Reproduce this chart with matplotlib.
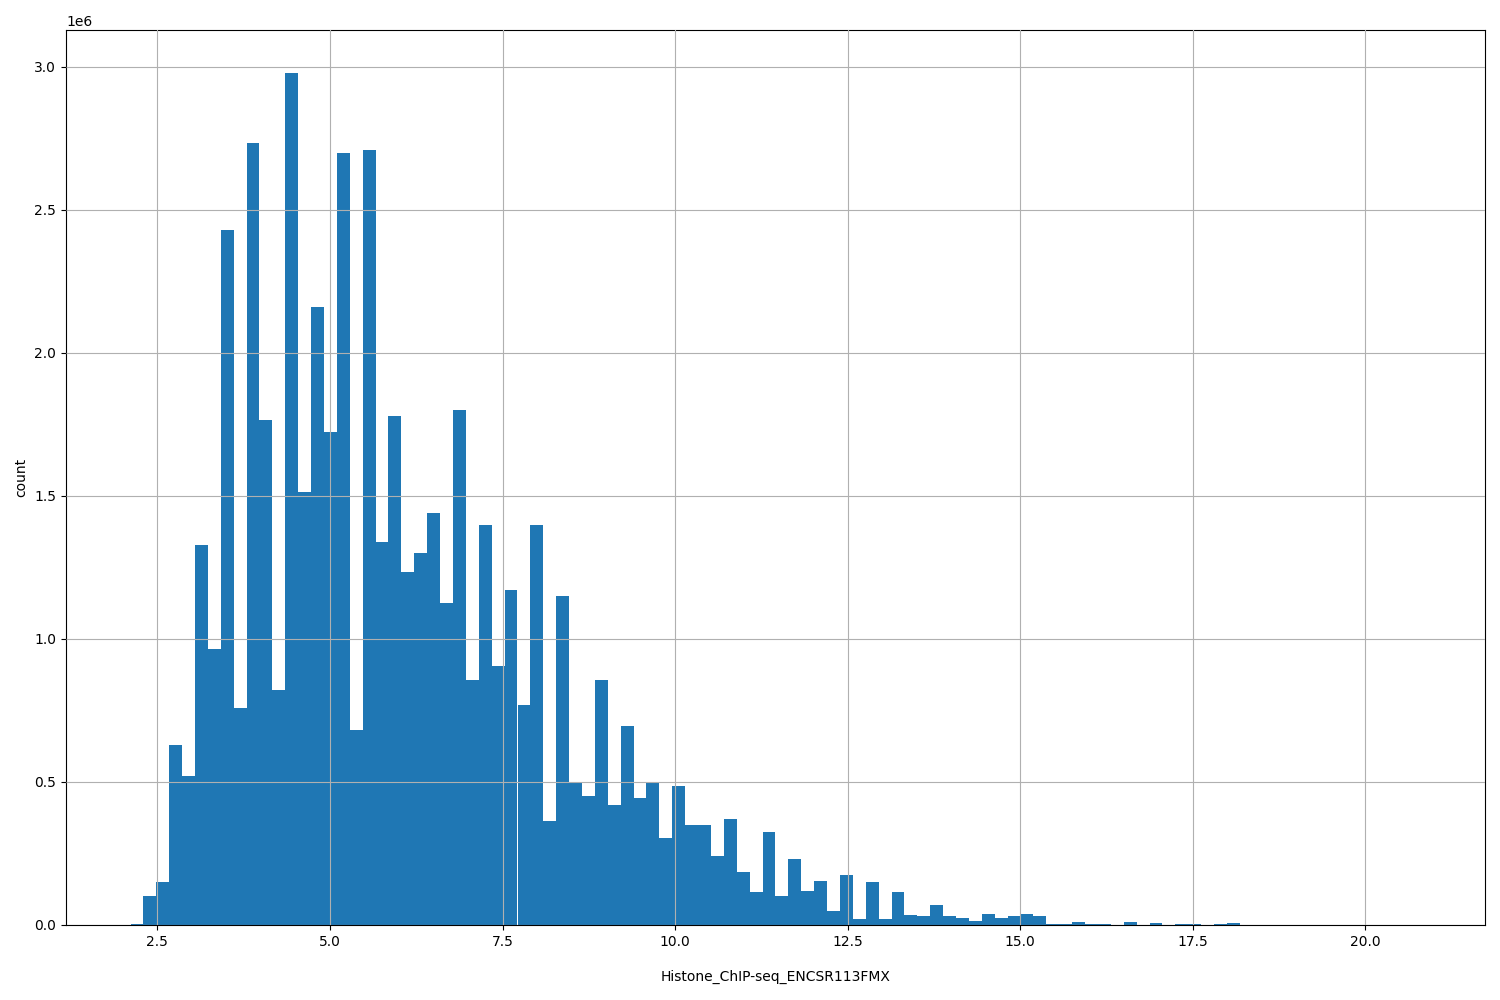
import numpy as np
import matplotlib
matplotlib.use("Agg")
import matplotlib.pyplot as plt

x_min = 2.11
x_max = 20.80
n_bins = 100
# counts in millions, per bin (left to right)
counts_m = [
    0.005, 0.10, 0.15, 0.63, 0.52, 1.33, 0.965, 2.43, 0.76, 2.735,
    1.765, 0.82, 2.98, 1.515, 2.16, 1.725, 2.70, 0.68, 2.71, 1.34,
    1.78, 1.235, 1.30, 1.44, 1.125, 1.80, 0.855, 1.40, 0.905, 1.17,
    0.77, 1.40, 0.365, 1.15, 0.50, 0.45, 0.855, 0.42, 0.695, 0.445,
    0.50, 0.305, 0.485, 0.35, 0.35, 0.24, 0.37, 0.185, 0.115, 0.325,
    0.10, 0.23, 0.12, 0.155, 0.05, 0.175, 0.02, 0.15, 0.02, 0.115,
    0.035, 0.03, 0.07, 0.03, 0.025, 0.015, 0.04, 0.025, 0.03, 0.04,
    0.03, 0.002, 0.005, 0.012, 0.005, 0.004, 0.0, 0.012, 0.0, 0.008,
    0.0, 0.004, 0.003, 0.0, 0.004, 0.008, 0.0, 0.0, 0.0, 0.0,
    0.0, 0.0, 0.0, 0.0, 0.0, 0.0, 0.0, 0.0, 0.0, 0.001,
]

edges = np.linspace(x_min, x_max, n_bins + 1)
centers = (edges[:-1] + edges[1:]) / 2
weights = np.array(counts_m) * 1e6

fig, ax = plt.subplots(figsize=(15, 10), dpi=100)
ax.hist(centers, bins=edges, weights=weights, color="#1f77b4")
ax.grid(True)
ax.set_axisbelow(False)
ax.set_xlabel("Histone_ChIP-seq_ENCSR113FMX", labelpad=15)
ax.set_ylabel("count")
fig.subplots_adjust(left=0.044, right=0.99, top=0.97, bottom=0.075)
fig.savefig("out.png")
